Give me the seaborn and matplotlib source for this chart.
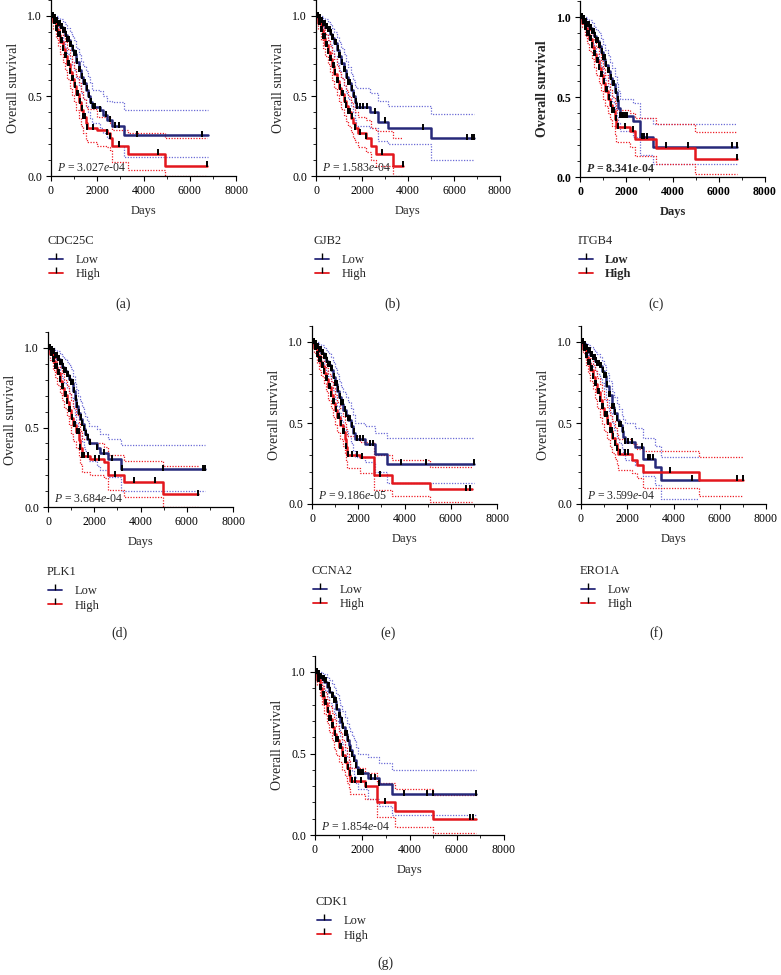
import numpy as np
import pandas as pd
import matplotlib
matplotlib.use("Agg")
import matplotlib.pyplot as plt
from matplotlib.lines import Line2D
from matplotlib.ticker import MultipleLocator
import seaborn as sns

# ---------------- data ----------------
GENES = ["CDC25C", "GJB2", "ITGB4", "PLK1", "CCNA2", "ERO1A", "CDK1"]
PANEL_TAGS = ["(a)", "(b)", "(c)", "(d)", "(e)", "(f)", "(g)"]
P_TEXT = ["3.027", "1.583", "8.341", "3.684", "9.186", "3.599", "1.854"]
P_EXP = ["-04", "-04", "-04", "-04", "-05", "-04", "-04"]
XTICKS = [0, 2000, 4000, 6000, 8000]
YTICKS = [0.0, 0.5, 1.0]

# panel a  (T = days, S = survival, U/L = upper/lower confidence bound, C = censored)
A_LOW_T = [0, 100, 200, 300, 400, 500, 600, 700, 800, 900, 1000, 1100, 1200, 1300, 1400, 1500, 1600, 1700, 1780, 2110, 2260, 2400, 2620, 3150, 6800]
A_LOW_S = [1.0, .985, .97, .95, .93, .905, .88, .85, .82, .79, .76, .71, .66, .62, .58, .54, .50, .46, .43, .41, .38, .35, .31, .255, .255]
A_LOW_U = [1.0, 1.0, 1.0, .99, .98, .965, .95, .925, .90, .875, .85, .80, .76, .72, .69, .655, .62, .58, .54, .53, .50, .47, .46, .41, .41]
A_LOW_L = [1.0, .965, .93, .90, .87, .835, .80, .765, .73, .695, .66, .61, .56, .52, .48, .44, .40, .36, .33, .30, .27, .24, .19, .12, .12]
A_HIGH_T = [0, 100, 200, 300, 400, 500, 600, 700, 800, 900, 1000, 1100, 1200, 1300, 1400, 1500, 1550, 2000, 2400, 2550, 2620, 3340, 4930, 6740]
A_HIGH_S = [1.0, .96, .92, .88, .84, .795, .75, .70, .65, .605, .56, .51, .46, .415, .37, .33, .30, .29, .27, .24, .19, .14, .065, .065]
A_HIGH_U = [1.0, .99, .97, .94, .91, .875, .84, .795, .75, .71, .67, .625, .58, .53, .48, .44, .42, .37, .37, .33, .29, .27, .235, .235]
A_HIGH_L = [1.0, .92, .86, .81, .76, .71, .66, .605, .55, .505, .46, .41, .36, .315, .27, .23, .21, .19, .18, .16, .09, .04, 0.0, 0.0]
A_LOW_C = [1900, 2110, 2370, 2550, 2760, 2940, 3700, 6530, 6840]
A_HIGH_C = [1800, 2400, 2550, 2950, 4640, 6740]

# panel b
B_LOW_T = [0, 100, 200, 300, 400, 500, 600, 700, 800, 900, 1000, 1100, 1200, 1300, 1400, 1500, 1600, 1700, 1760, 2340, 2700, 3140, 5020, 6870]
B_LOW_S = [1.0, .985, .97, .95, .93, .91, .89, .86, .83, .79, .75, .705, .66, .62, .58, .54, .50, .46, .43, .40, .34, .30, .235, .235]
B_LOW_U = [1.0, 1.0, 1.0, .99, .98, .965, .95, .925, .90, .87, .84, .80, .76, .72, .68, .64, .60, .57, .55, .52, .47, .44, .39, .39]
B_LOW_L = [1.0, .965, .93, .905, .88, .85, .82, .785, .75, .705, .66, .61, .56, .52, .48, .44, .40, .35, .31, .30, .22, .20, .10, .10]
B_HIGH_T = [0, 100, 200, 300, 400, 500, 600, 700, 800, 900, 1000, 1100, 1200, 1300, 1400, 1500, 1600, 1700, 1830, 2190, 2410, 2630, 3350, 3790]
B_HIGH_S = [1.0, .955, .91, .865, .82, .775, .73, .685, .64, .595, .55, .51, .47, .435, .40, .365, .33, .30, .27, .24, .19, .14, .065, .065]
B_HIGH_U = [1.0, .98, .96, .925, .89, .85, .81, .77, .73, .69, .65, .61, .57, .535, .50, .465, .43, .40, .37, .35, .30, .28, .24, .24]
B_HIGH_L = [1.0, .92, .85, .80, .75, .70, .65, .60, .55, .505, .46, .42, .38, .345, .31, .275, .24, .21, .18, .15, .10, .06, 0.0, 0.0]
B_LOW_C = [1900, 2050, 2200, 2560, 2990, 4660, 6550, 6780, 6870]
B_HIGH_C = [1700, 1900, 2190, 2850, 3790]

# panel c
C_LOW_T = [0, 100, 200, 300, 400, 500, 600, 700, 800, 900, 1000, 1100, 1200, 1300, 1400, 1500, 1600, 1660, 1730, 2300, 2590, 3160, 6770]
C_LOW_S = [1.0, .985, .97, .95, .93, .905, .88, .85, .82, .78, .74, .70, .66, .62, .58, .53, .48, .43, .38, .35, .25, .19, .19]
C_LOW_U = [1.0, 1.0, 1.0, .99, .98, .96, .94, .92, .90, .865, .83, .795, .76, .72, .68, .63, .58, .535, .49, .46, .37, .33, .33]
C_LOW_L = [1.0, .965, .93, .90, .87, .84, .81, .77, .73, .69, .65, .605, .56, .515, .47, .425, .38, .335, .29, .25, .14, .08, .08]
C_HIGH_T = [0, 100, 200, 300, 400, 500, 600, 700, 800, 900, 1000, 1100, 1200, 1300, 1400, 1500, 1570, 2150, 2370, 3300, 4970, 6800]
C_HIGH_S = [1.0, .965, .93, .895, .86, .815, .77, .725, .68, .635, .59, .54, .49, .45, .41, .36, .31, .29, .24, .18, .115, .115]
C_HIGH_U = [1.0, .985, .97, .945, .92, .885, .85, .81, .77, .725, .68, .635, .59, .545, .50, .46, .42, .40, .37, .33, .28, .28]
C_HIGH_L = [1.0, .94, .88, .835, .79, .74, .69, .64, .59, .54, .49, .445, .40, .36, .32, .27, .22, .19, .13, .08, .02, .02]
C_LOW_C = [1850, 1950, 2050, 2660, 2750, 2900, 3740, 4680, 6560, 6770]
C_HIGH_C = [1650, 1940, 2300, 6800]

# panel d
D_LOW_T = [0, 100, 200, 300, 400, 500, 600, 700, 800, 900, 1000, 1080, 1150, 1230, 1300, 1380, 1470, 1550, 1620, 1690, 1760, 2120, 2260, 2580, 3160, 6800]
D_LOW_S = [1.0, .985, .97, .95, .93, .905, .88, .855, .83, .805, .78, .73, .68, .635, .59, .555, .52, .49, .46, .43, .40, .37, .34, .30, .24, .24]
D_LOW_U = [1.0, 1.0, 1.0, .99, .98, .965, .95, .93, .91, .89, .87, .825, .78, .74, .70, .665, .63, .60, .57, .54, .51, .49, .46, .43, .39, .39]
D_LOW_L = [1.0, .965, .93, .905, .88, .845, .81, .78, .75, .72, .69, .635, .58, .53, .48, .445, .41, .38, .35, .32, .29, .26, .23, .19, .10, .10]
D_HIGH_T = [0, 100, 200, 300, 400, 500, 600, 700, 800, 900, 1000, 1100, 1200, 1330, 1400, 1470, 1830, 2400, 2580, 3300, 4970, 6470]
D_HIGH_S = [1.0, .96, .92, .88, .84, .795, .75, .705, .66, .61, .56, .515, .47, .42, .37, .32, .30, .28, .20, .16, .08, .08]
D_HIGH_U = [1.0, .985, .97, .94, .91, .875, .84, .80, .76, .715, .67, .625, .58, .53, .48, .43, .40, .38, .33, .29, .26, .26]
D_HIGH_L = [1.0, .925, .86, .815, .77, .72, .67, .62, .57, .515, .46, .415, .37, .32, .27, .22, .20, .18, .11, .06, 0.0, 0.0]
D_LOW_C = [1830, 2120, 2400, 2760, 3190, 4970, 6700, 6800]
D_HIGH_C = [1750, 2050, 2200, 2900, 3700, 4640, 6470]

# panel e
E_LOW_T = [0, 100, 200, 300, 400, 500, 600, 700, 800, 900, 1000, 1080, 1150, 1250, 1350, 1460, 1570, 1680, 1790, 1860, 2290, 2720, 3230, 7000]
E_LOW_S = [1.0, .985, .97, .95, .93, .905, .88, .855, .83, .785, .74, .70, .66, .62, .58, .55, .52, .48, .44, .40, .37, .31, .25, .25]
E_LOW_U = [1.0, 1.0, 1.0, .99, .98, .965, .95, .93, .91, .875, .84, .80, .76, .725, .69, .66, .63, .59, .55, .50, .48, .44, .41, .41]
E_LOW_L = [1.0, .965, .93, .905, .88, .85, .82, .79, .76, .705, .65, .605, .56, .52, .48, .45, .42, .375, .33, .29, .26, .20, .13, .13]
E_HIGH_T = [0, 100, 200, 300, 400, 500, 600, 700, 800, 900, 1000, 1100, 1200, 1320, 1430, 1480, 1530, 2080, 2680, 3440, 5100, 6900]
E_HIGH_S = [1.0, .96, .92, .885, .85, .81, .77, .72, .67, .625, .58, .535, .49, .445, .40, .35, .30, .29, .18, .13, .09, .09]
E_HIGH_U = [1.0, .985, .97, .94, .91, .875, .84, .80, .76, .715, .67, .63, .59, .545, .50, .46, .42, .38, .30, .27, .23, .23]
E_HIGH_L = [1.0, .935, .87, .83, .79, .745, .70, .645, .59, .54, .49, .445, .40, .355, .31, .265, .22, .19, .085, .05, .01, .01]
E_LOW_C = [1950, 2080, 2200, 2500, 2650, 3870, 4950, 7000]
E_HIGH_C = [1750, 1950, 2150, 2960, 6680, 6850]

# panel f
F_LOW_T = [0, 100, 200, 300, 400, 500, 600, 700, 800, 900, 1000, 1100, 1200, 1330, 1440, 1540, 1650, 1760, 1830, 1900, 2330, 2700, 3200, 3440, 5110]
F_LOW_S = [1.0, .98, .96, .94, .92, .90, .88, .865, .85, .82, .79, .73, .67, .60, .56, .52, .485, .45, .415, .38, .35, .28, .23, .15, .15]
F_LOW_U = [1.0, .995, .99, .98, .97, .955, .94, .925, .91, .885, .86, .81, .76, .70, .66, .62, .585, .55, .525, .50, .47, .41, .36, .29, .29]
F_LOW_L = [1.0, .96, .92, .895, .87, .845, .82, .80, .78, .745, .71, .64, .57, .50, .455, .41, .375, .34, .305, .27, .24, .17, .12, .03, .03]
F_HIGH_T = [0, 100, 200, 300, 400, 500, 600, 700, 800, 900, 1000, 1120, 1250, 1360, 1470, 1550, 1620, 2190, 2400, 2700, 5110, 6990]
F_HIGH_S = [1.0, .955, .91, .87, .83, .785, .74, .69, .64, .595, .55, .50, .45, .41, .37, .34, .31, .27, .24, .20, .15, .15]
F_HIGH_U = [1.0, .98, .96, .93, .90, .86, .82, .78, .74, .695, .65, .60, .55, .51, .47, .435, .40, .37, .34, .33, .29, .29]
F_HIGH_L = [1.0, .93, .86, .81, .76, .71, .65, .595, .54, .495, .45, .40, .35, .315, .28, .245, .21, .19, .16, .10, .05, .05]
F_LOW_C = [1900, 2050, 2200, 2620, 2900, 3000, 3100, 4790]
F_HIGH_C = [1700, 1900, 2050, 3850, 6730, 6990]

# panel g
G_LOW_T = [0, 100, 200, 300, 400, 500, 600, 700, 800, 900, 1000, 1070, 1140, 1250, 1350, 1420, 1490, 1560, 1630, 1720, 1800, 2260, 2690, 3250, 6830]
G_LOW_S = [1.0, .985, .97, .955, .94, .91, .88, .85, .82, .775, .73, .695, .66, .62, .58, .55, .52, .49, .46, .42, .38, .35, .31, .25, .25]
G_LOW_U = [1.0, 1.0, 1.0, .995, .99, .97, .95, .925, .90, .865, .83, .795, .76, .725, .69, .665, .64, .61, .58, .54, .50, .48, .44, .40, .40]
G_LOW_L = [1.0, .97, .94, .915, .89, .85, .81, .78, .75, .70, .65, .605, .56, .52, .48, .45, .42, .39, .36, .32, .28, .22, .18, .12, .12]
G_HIGH_T = [0, 100, 200, 300, 400, 500, 600, 700, 800, 900, 1000, 1140, 1250, 1350, 1420, 1490, 2120, 2610, 3390, 5000, 6800]
G_HIGH_S = [1.0, .95, .90, .855, .81, .76, .71, .665, .62, .58, .54, .49, .45, .41, .37, .33, .30, .20, .15, .10, .10]
G_HIGH_U = [1.0, .975, .95, .915, .88, .835, .79, .75, .71, .67, .63, .58, .54, .50, .455, .41, .38, .32, .28, .245, .245]
G_HIGH_L = [1.0, .92, .85, .795, .74, .685, .63, .58, .53, .49, .45, .40, .36, .32, .285, .25, .22, .11, .05, .015, .015]
G_LOW_C = [1850, 1950, 2050, 2350, 2550, 2700, 3770, 4720, 5000, 6830]
G_HIGH_C = [1700, 1950, 2150, 2970, 6550, 6700]

# dense early censoring (the thick black early segments)
EARLY_LOW_C = [30, 70, 120, 170, 220, 270, 320, 370, 430, 480, 540, 590, 650, 700, 760, 820,
               880, 940, 1000, 1060, 1130, 1200, 1270, 1340, 1410, 1490, 1570, 1650, 1730, 1800]
EARLY_HIGH_C = [30, 70, 120, 170, 220, 270, 320, 370, 430, 480, 540, 600, 660, 720, 780, 840,
                900, 970, 1040, 1110, 1180, 1250, 1320, 1400, 1480, 1560]

LOW_T = [A_LOW_T, B_LOW_T, C_LOW_T, D_LOW_T, E_LOW_T, F_LOW_T, G_LOW_T]
LOW_S = [A_LOW_S, B_LOW_S, C_LOW_S, D_LOW_S, E_LOW_S, F_LOW_S, G_LOW_S]
LOW_U = [A_LOW_U, B_LOW_U, C_LOW_U, D_LOW_U, E_LOW_U, F_LOW_U, G_LOW_U]
LOW_L = [A_LOW_L, B_LOW_L, C_LOW_L, D_LOW_L, E_LOW_L, F_LOW_L, G_LOW_L]
HIGH_T = [A_HIGH_T, B_HIGH_T, C_HIGH_T, D_HIGH_T, E_HIGH_T, F_HIGH_T, G_HIGH_T]
HIGH_S = [A_HIGH_S, B_HIGH_S, C_HIGH_S, D_HIGH_S, E_HIGH_S, F_HIGH_S, G_HIGH_S]
HIGH_U = [A_HIGH_U, B_HIGH_U, C_HIGH_U, D_HIGH_U, E_HIGH_U, F_HIGH_U, G_HIGH_U]
HIGH_L = [A_HIGH_L, B_HIGH_L, C_HIGH_L, D_HIGH_L, E_HIGH_L, F_HIGH_L, G_HIGH_L]
LOW_C = [A_LOW_C, B_LOW_C, C_LOW_C, D_LOW_C, E_LOW_C, F_LOW_C, G_LOW_C]
HIGH_C = [A_HIGH_C, B_HIGH_C, C_HIGH_C, D_HIGH_C, E_HIGH_C, F_HIGH_C, G_HIGH_C]

# ---------------- layout (pixels) ----------------
W, H = 781, 975
# x of day 0, x of day 8000, y of 1.0, y of 0.0
AX_PX = [(51, 236, 16, 176), (316, 500, 16, 176), (580, 765, 17, 177),
         (48, 233, 348, 507), (312, 497, 342, 504), (581, 766, 342, 504),
         (315, 504, 672, 835)]
# legend title (x, y centre); entries start below
LEG_PX = [(48, 241), (314, 241), (578, 241), (47, 572), (312, 571), (580, 571), (316, 902)]
TAG_PX = [(123, 304), (392, 304), (656, 304), (120, 633), (388, 633), (656, 633), (385, 963)]
BOLD_PANEL = 2

BLUE = "#27297a"
BLUE_CI = "#6b6bd6"
RED = "#e3171d"
RED_CI = "#ee1c24"

sns.set_style("ticks")
plt.rcParams["font.family"] = ["Liberation Serif", "DejaVu Serif"]
plt.rcParams["mathtext.fontset"] = "custom"
plt.rcParams["mathtext.it"] = "Liberation Serif:italic"
plt.rcParams["mathtext.rm"] = "Liberation Serif"
plt.rcParams["mathtext.bf"] = "Liberation Serif:bold:italic"

fig = plt.figure(figsize=(W / 100, H / 100), dpi=100)


def step_val(t, s, x):
    idx = np.searchsorted(np.asarray(t), np.asarray(x), side="right") - 1
    idx = np.clip(idx, 0, len(s) - 1)
    return np.asarray(s)[idx]


for i in range(7):
    bold = (i == BOLD_PANEL)
    fw = "bold" if bold else "normal"
    x0, x1, y1, y0 = AX_PX[i]
    ppu = y0 - y1
    top = y1 - 0.1 * ppu
    ax = fig.add_axes([x0 / W, 1 - y0 / H, (x1 - x0) / W, (y0 - top) / H])

    for t, s, u, l, cicol in [(LOW_T[i], LOW_S[i], LOW_U[i], LOW_L[i], BLUE_CI),
                              (HIGH_T[i], HIGH_S[i], HIGH_U[i], HIGH_L[i], RED_CI)]:
        df = pd.DataFrame({"t": t, "s": s, "u": u, "l": l})
        for col in ["u", "l"]:
            sns.lineplot(data=df, x="t", y=col, ax=ax, color=cicol, lw=0.9,
                         linestyle=(0, (1, 1.2)), drawstyle="steps-post",
                         errorbar=None, sort=False)
    for t, s, col in [(LOW_T[i], LOW_S[i], BLUE), (HIGH_T[i], HIGH_S[i], RED)]:
        df = pd.DataFrame({"t": t, "s": s})
        sns.lineplot(data=df, x="t", y="s", ax=ax, color=col, lw=1.8,
                     drawstyle="steps-post", errorbar=None, sort=False)

    for t, s, cens_late, early in [(LOW_T[i], LOW_S[i], LOW_C[i], EARLY_LOW_C),
                                   (HIGH_T[i], HIGH_S[i], HIGH_C[i], EARLY_HIGH_C)]:
        ce = np.array(early + cens_late, dtype=float)
        ce = ce[ce <= t[-1]]
        cy = step_val(t, s, ce)
        ax.plot(ce, cy + 0.008, linestyle="none", marker="|", color="black",
                markersize=4.5, markeredgewidth=1.4)

    ax.set_xlim(0, 8000)
    ax.set_ylim(0, 1.1)
    ax.set_xticks(XTICKS)
    ax.set_yticks(YTICKS)
    ax.set_xticklabels([str(v) for v in XTICKS], fontweight=fw)
    ax.set_yticklabels([f"{v:.1f}" for v in YTICKS], fontweight=fw)
    ax.yaxis.set_minor_locator(MultipleLocator(0.1))
    ax.xaxis.set_minor_locator(MultipleLocator(1000))
    ax.tick_params(axis="both", which="major", direction="out", length=3.5, width=0.8,
                   labelsize=8.5, pad=3, colors="black")
    ax.tick_params(axis="both", which="minor", direction="out", length=2, width=0.7)
    for sp in ["top", "right"]:
        ax.spines[sp].set_visible(False)
    for sp in ["left", "bottom"]:
        ax.spines[sp].set_linewidth(0.9)
        ax.spines[sp].set_color("black")
    ax.set_xlabel("Days", fontsize=9, labelpad=6, fontweight=fw)
    ax.set_ylabel("Overall survival", fontsize=10, labelpad=5, fontweight=fw)

    if bold:
        ptxt = r"$\mathbf{P}$ = " + P_TEXT[i] + r"$\mathbf{e}$" + P_EXP[i]
    else:
        ptxt = r"$P$ = " + P_TEXT[i] + r"$e$" + P_EXP[i]
    ax.text(250, 0.015, ptxt, fontsize=8.5, ha="left", va="bottom", fontweight=fw)

    lx, ly = LEG_PX[i]
    fig.text(lx / W, 1 - ly / H, GENES[i], fontsize=9, ha="left", va="center")
    handles = [Line2D([0], [0], color=BLUE, lw=1.3, marker=2, markersize=4,
                      markeredgecolor="black", markeredgewidth=1.0),
               Line2D([0], [0], color=RED, lw=1.3, marker=2, markersize=4,
                      markeredgecolor="black", markeredgewidth=1.0)]
    leg = fig.legend(handles, ["Low", "High"], loc="upper left",
                     bbox_to_anchor=((lx + 1) / W, 1 - (ly + 13) / H), frameon=False,
                     prop={"size": 9, "weight": fw}, handlelength=1.1, handletextpad=1.0,
                     labelspacing=0.2, borderpad=0, borderaxespad=0)

    tx, ty = TAG_PX[i]
    fig.text(tx / W, 1 - ty / H, PANEL_TAGS[i], fontsize=10, ha="center", va="center")

fig.savefig("out.png", dpi=100)
